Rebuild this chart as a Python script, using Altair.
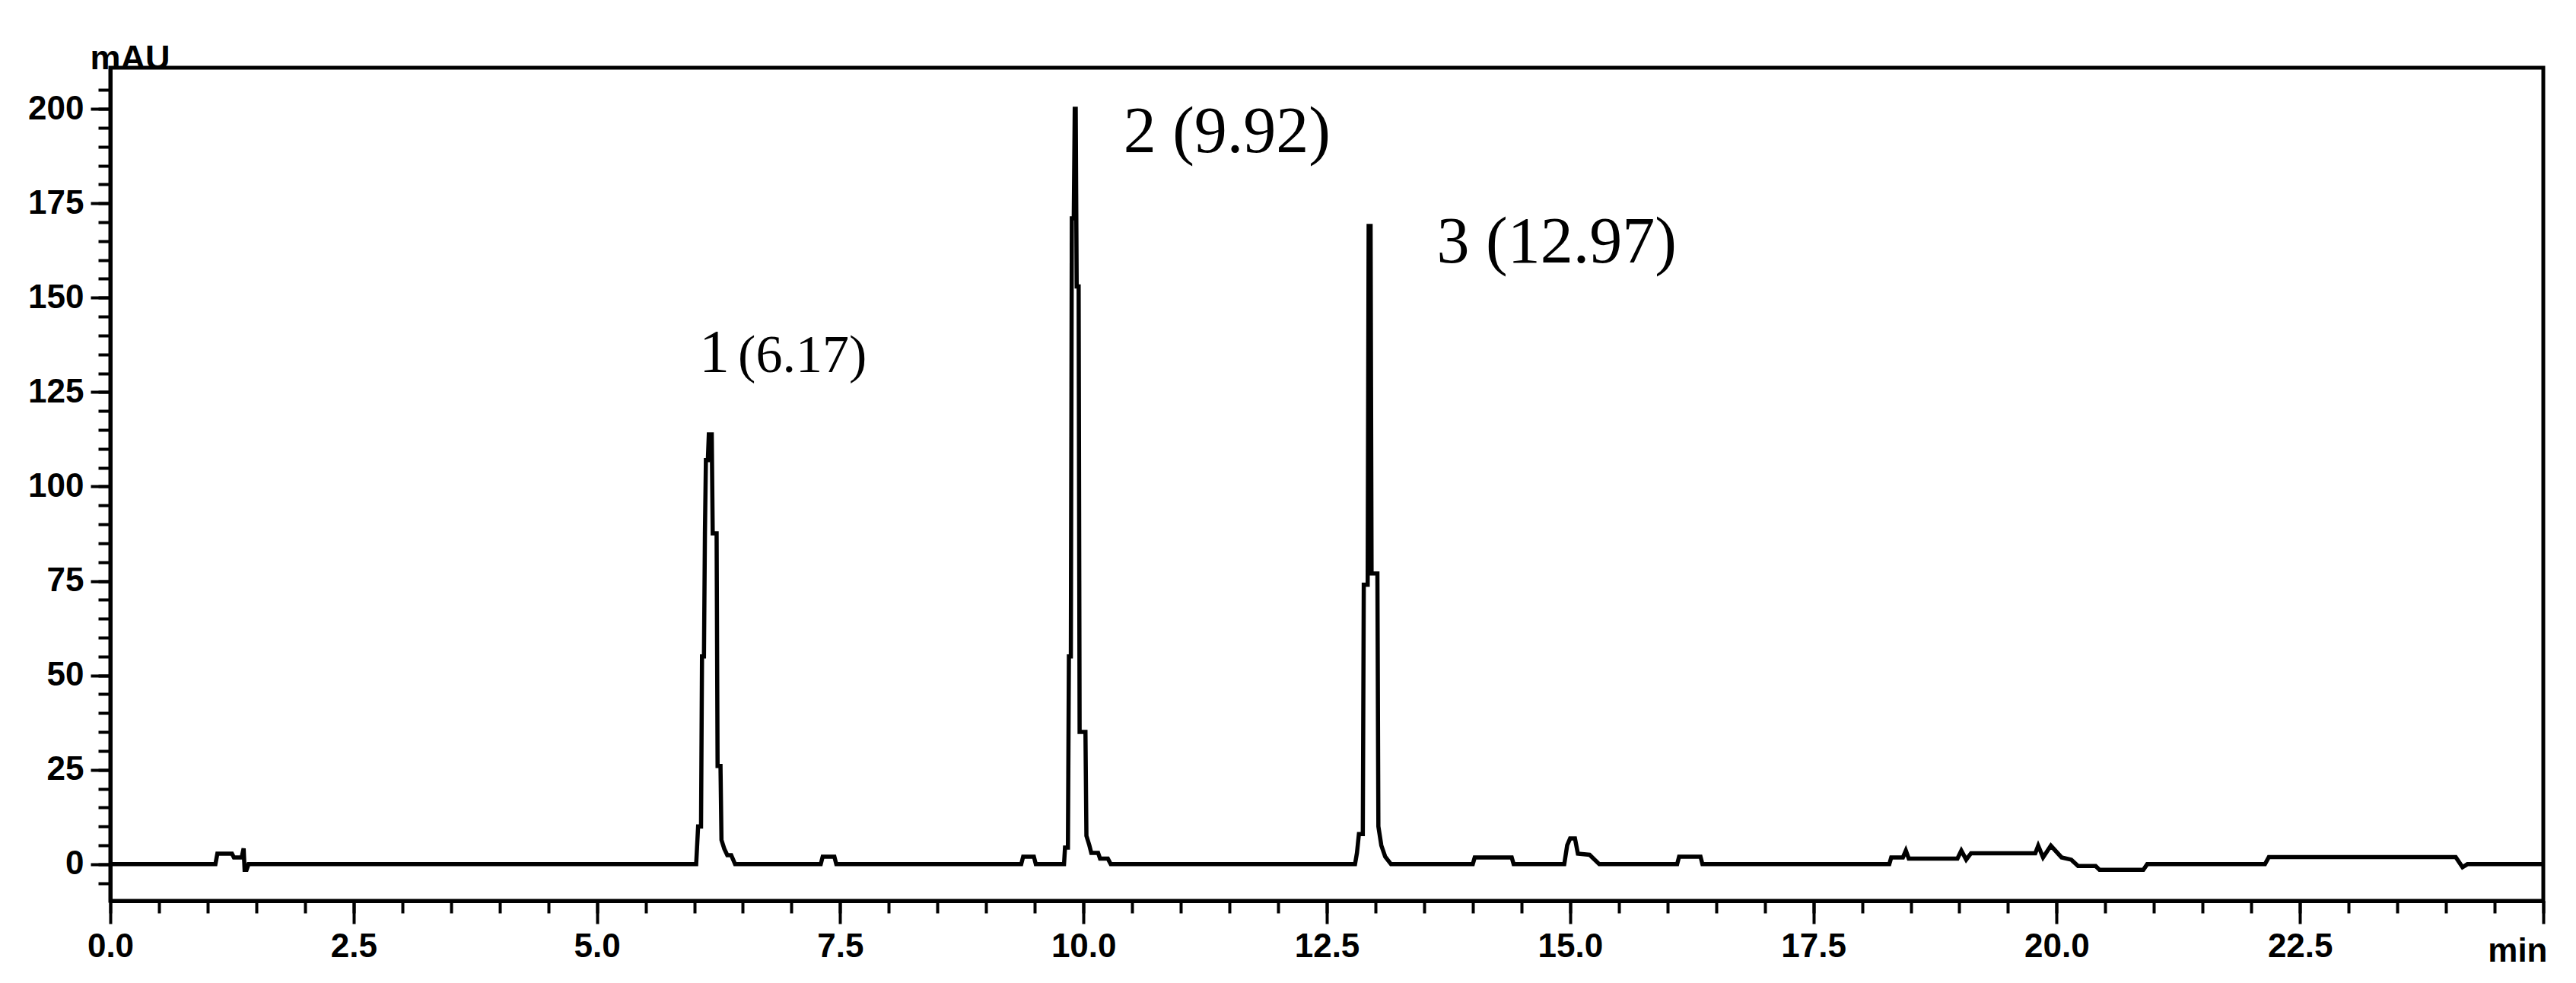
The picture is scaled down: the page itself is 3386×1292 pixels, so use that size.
import altair as alt
import pandas as pd

# Chromatogram trace (time in min, signal in mAU)
time_min = [
    0.00, 1.08, 1.10, 1.25, 1.27, 1.35, 1.37, 1.38, 1.40, 1.42,
    6.02, 6.04, 6.07, 6.08, 6.10, 6.11, 6.12, 6.14, 6.15, 6.18,
    6.19, 6.23, 6.24, 6.27, 6.28, 6.31, 6.34, 6.38, 6.42,
    7.30, 7.32, 7.44, 7.46,
    9.36, 9.38, 9.49, 9.51,
    9.80, 9.81, 9.84, 9.85, 9.87, 9.88, 9.90, 9.91, 9.92, 9.93, 9.95, 9.96,
    10.02, 10.03, 10.06, 10.08, 10.15, 10.17, 10.25, 10.28,
    12.79, 12.81, 12.83, 12.87, 12.88, 12.92, 12.93, 12.95, 12.96, 13.02,
    13.03, 13.06, 13.10, 13.16,
    14.00, 14.02, 14.40, 14.42,
    14.94, 14.97, 15.00, 15.05, 15.08, 15.20, 15.30,
    16.10, 16.12, 16.34, 16.36,
    18.28, 18.30, 18.42, 18.45, 18.48, 18.98, 19.02, 19.07, 19.12, 19.78,
    19.81, 19.86, 19.94, 20.05, 20.15, 20.22, 20.40, 20.44, 20.89, 20.93,
    22.14, 22.18, 24.10, 24.17, 24.22, 25.00,
]
signal_mau = [
    0, 0, 2.8, 2.8, 1.8, 1.8, 4.2, -1.5, -1.5, 0,
    0, 10, 10, 55, 55, 87.6, 107, 107, 113.8, 113.8,
    87.6, 87.6, 26, 26, 6.4, 4, 2.4, 2.4, 0,
    0, 2, 2, 0,
    0, 2, 2, 0,
    0, 4.4, 4.4, 55, 55, 171, 171, 200, 200, 153, 153, 35,
    35, 7.5, 5, 3, 3, 1.5, 1.5, 0,
    0, 3, 8, 8, 74, 74, 169, 169, 77, 77,
    10, 5, 2, 0,
    0, 1.8, 1.8, 0,
    0, 5, 6.8, 6.8, 2.8, 2.5, 0,
    0, 2, 2, 0,
    0, 1.8, 1.8, 3.6, 1.5, 1.5, 3.6, 1.2, 2.9, 2.9,
    4.9, 1.8, 4.9, 1.8, 1.2, -0.5, -0.5, -1.5, -1.5, 0,
    0, 1.9, 1.9, -0.8, 0, 0,
]

# Peak annotations
label_text = ["1", "(6.17)", "2 (9.92)", "3 (12.97)"]
label_time = [6.05, 6.45, 10.41, 13.63]
label_mau = [130.3, 130.3, 188.5, 159.3]
label_size = [80, 70, 86, 86]

# Axis ticks
x_major = [0, 2.5, 5, 7.5, 10, 12.5, 15, 17.5, 20, 22.5, 25]
x_minor = [i * 0.5 for i in range(51)]
y_major = [0, 25, 50, 75, 100, 125, 150, 175, 200]
y_minor = [i * 5 for i in range(-1, 42)]

trace = pd.DataFrame({"t": time_min, "v": signal_mau, "i": list(range(len(time_min)))})
labels = pd.DataFrame({"t": label_time, "v": label_mau, "txt": label_text, "sz": label_size})

SANS = "Liberation Sans"

x_axis = alt.Axis(
    values=x_major, orient="bottom",
    labelExpr="datum.value < 25 ? format(datum.value, '.1f') : ''",
    tickSize=30, tickWidth=4, tickColor="black",
    domainColor="black", domainWidth=5,
    labelFont=SANS, labelFontSize=44, labelFontWeight="bold", labelColor="black",
    labelPadding=8, labelOverlap=False, labelFlush=False,
    grid=False,
    title="min", titleFont=SANS, titleFontSize=44, titleFontWeight="bold",
    titleColor="black", titleX=3203, titleY=79, titleAlign="right", titleBaseline="alphabetic",
)
y_axis = alt.Axis(
    values=y_major, orient="left",
    format="d",
    tickSize=26, tickWidth=4, tickColor="black",
    domainColor="black", domainWidth=5,
    labelFont=SANS, labelFontSize=44, labelFontWeight="bold", labelColor="black",
    labelPadding=9, labelOverlap=False, labelFlush=False,
    grid=False,
    title="mAU", titleFont=SANS, titleFontSize=45, titleFontWeight="bold",
    titleColor="black", titleAngle=0, titleX=-27, titleY=1, titleAlign="left",
    titleBaseline="alphabetic",
)
x_minor_axis = alt.Axis(
    values=x_minor, orient="bottom", labels=False, domain=False, grid=False,
    tickSize=16, tickWidth=4, tickColor="black", title=None,
)
y_minor_axis = alt.Axis(
    values=y_minor, orient="left", labels=False, domain=False, grid=False,
    tickSize=16, tickWidth=4, tickColor="black", title=None,
)

x_dom = [0, 25]
y_dom = [-9.7, 210.9]

def xs():
    return alt.Scale(domain=x_dom, nice=False, zero=False)

def ys():
    return alt.Scale(domain=y_dom, nice=False, zero=False)

line = alt.Chart(trace).mark_line(color="black", strokeWidth=5.5).encode(
    x=alt.X("t:Q", scale=xs(), axis=x_axis),
    y=alt.Y("v:Q", scale=ys(), axis=y_axis),
    order=alt.Order("i:Q"),
)

minor = alt.Chart(trace).mark_line(color="black", strokeWidth=0, opacity=0).encode(
    x=alt.X("t:Q", scale=xs(), axis=x_minor_axis),
    y=alt.Y("v:Q", scale=ys(), axis=y_minor_axis),
    order=alt.Order("i:Q"),
)

text = alt.Chart(labels).mark_text(
    align="left", baseline="alphabetic", font="Liberation Serif", color="black"
).encode(
    x=alt.X("t:Q", scale=xs(), axis=None),
    y=alt.Y("v:Q", scale=ys(), axis=None),
    text="txt:N",
    size=alt.Size("sz:Q", scale=None, legend=None),
)

chart = alt.layer(minor, line, text).resolve_scale(
    x="independent", y="independent"
).resolve_axis(
    x="independent", y="independent"
).properties(
    width=3198,
    height=1095,
    padding={"left": 137, "top": 81, "right": 35, "bottom": 100},
    autosize=alt.AutoSizeParams(type="none"),
    background="white",
).configure_view(stroke="black", strokeWidth=5)

chart.save("out.html", embed_options={"renderer": "svg", "actions": False})
